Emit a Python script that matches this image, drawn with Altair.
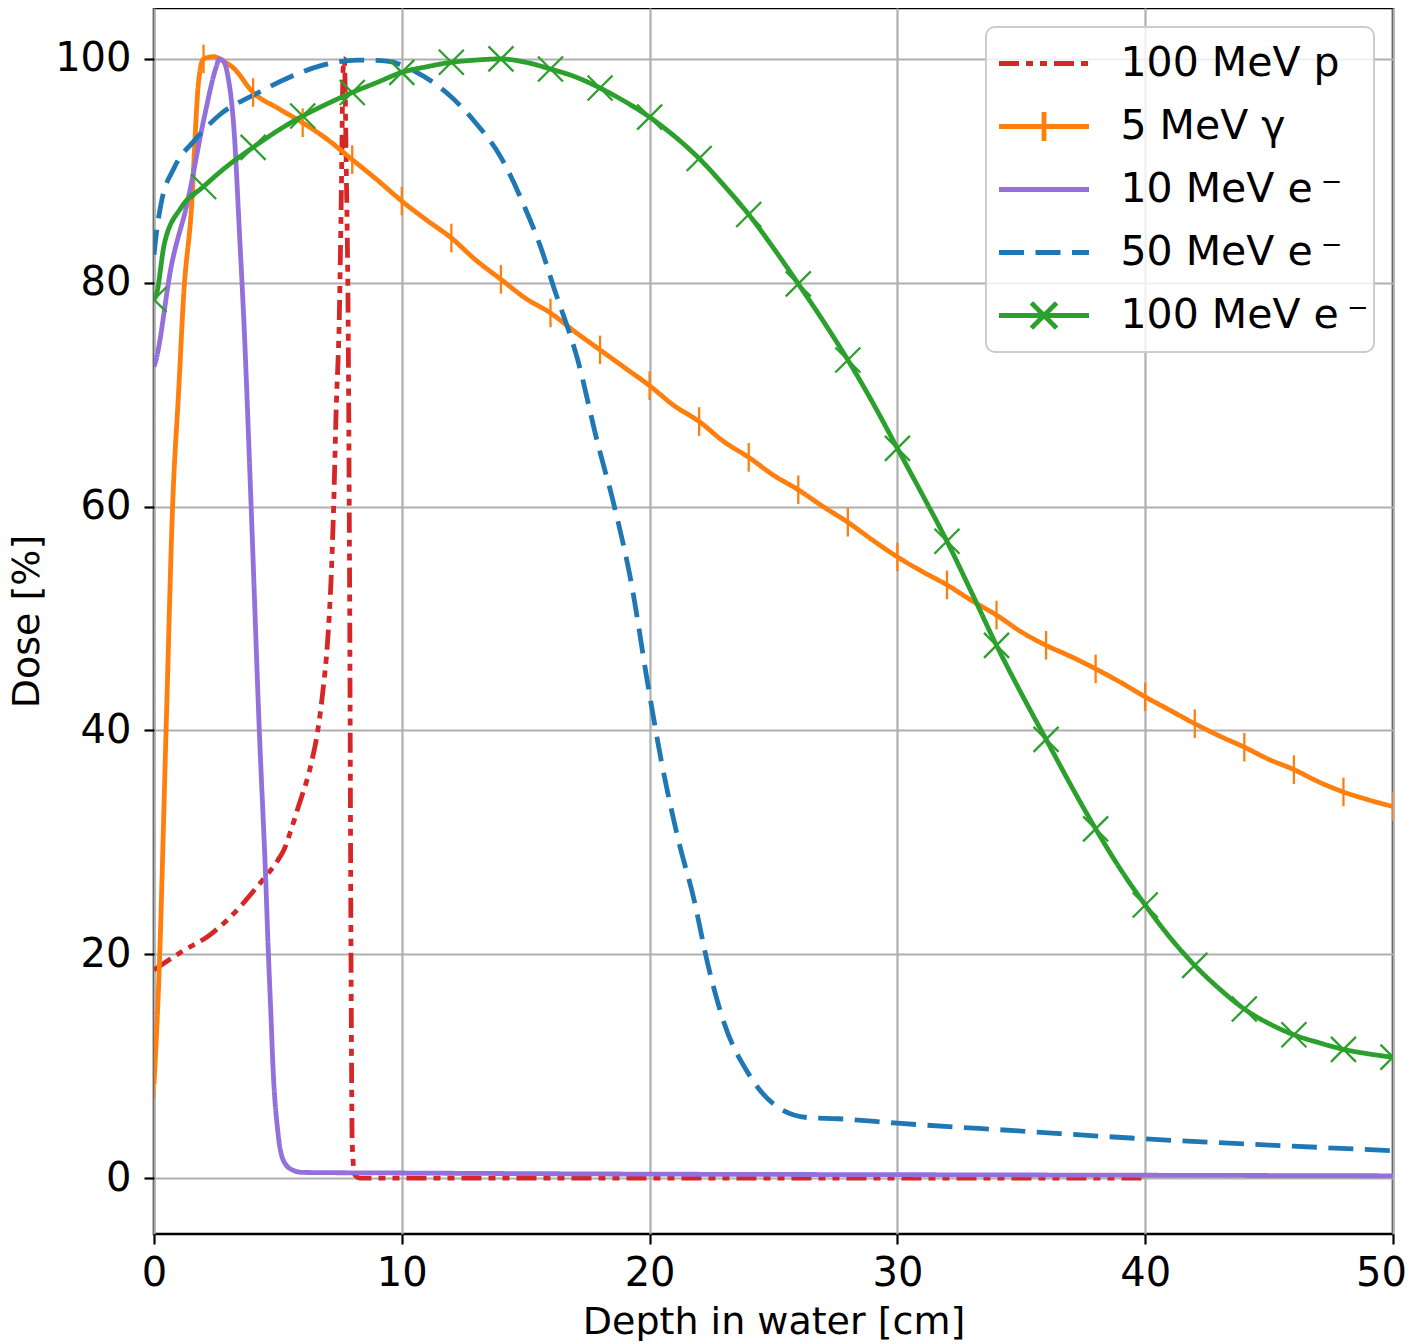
import altair as alt
import pandas as pd

# ---------------- data ----------------
SERIES = ["100 MeV p", "5 MeV γ", "10 MeV e\u2009⁻\u2002", "50 MeV e\u2009⁻\u2002",
          "100 MeV e\u2009⁻\u2002"]
COLORS = ["#d62728", "#ff7f0e", "#9370db", "#1f77b4", "#2ca02c"]

proton_x = [0, 1.1, 2.3, 3.5, 4.0, 4.45, 5.0, 5.26, 5.5, 5.8, 6.34, 6.61, 6.81, 7.01, 7.15,
            7.25, 7.35, 7.48, 7.56, 7.63, 7.68, 7.76, 7.84, 7.9, 7.95, 8.0, 8.1, 8.3,
            12, 20, 30, 40]
proton_y = [18.6, 20.2, 21.8, 24.3, 25.6, 26.8, 28.4, 29.4, 30.9, 33.0, 37.0, 40.0, 43.4,
            48.1, 53.7, 60.0, 68.5, 77.2, 88.0, 99.0, 100.0, 90.0, 75.0, 50.0, 20.0, 3.0,
            0.3, 0.0, 0.0, 0.0, 0.0, 0.0]

gamma_x = [0, 0.2, 0.5, 0.75, 1.0, 1.2, 1.5, 1.8, 2, 2.4, 2.8, 3.2, 4, 5, 6, 7, 8, 9,
           10, 11, 12, 13, 14, 15, 16, 17, 18, 19, 20, 21, 22, 23, 24, 25, 26, 27, 28,
           29, 30, 31, 32, 33, 34, 35, 36, 37, 38, 39, 40, 41, 42, 43, 44, 45, 46, 47,
           48, 49, 50]
gamma_y = [8.4, 18.0, 41.0, 60.0, 70.5, 79.0, 86.3, 98.0, 100.0, 100.2, 99.8, 99.2, 97.0,
           95.6, 94.3, 92.8, 91.0, 89.2, 87.3, 85.6, 84.0, 82.0, 80.3, 78.6, 77.3, 75.6,
           74.0, 72.4, 70.8, 69.0, 67.6, 65.8, 64.4, 62.8, 61.5, 60.0, 58.6, 57.0, 55.5,
           54.2, 53.0, 51.6, 50.3, 48.8, 47.6, 46.6, 45.5, 44.3, 43.0, 41.8, 40.6, 39.5,
           38.5, 37.4, 36.5, 35.4, 34.5, 33.8, 33.2]

e10_x = [0, 0.08, 0.69, 1.36, 2.03, 2.5, 2.64, 2.8, 2.97, 3.24, 3.45, 3.65, 3.92, 4.25,
         4.52, 4.6, 4.72, 4.8, 5.0, 5.26, 5.66, 6, 10, 20, 30, 40, 50]
e10_y = [72.5, 73.1, 81.4, 87.3, 94.8, 99.2, 100.0, 99.8, 98.6, 93.3, 84.4, 75.4, 60.0,
         40.0, 26.0, 21.0, 14.5, 10.0, 4.1, 1.4, 0.65, 0.5, 0.45, 0.35, 0.3, 0.25, 0.2]

e50_x = [0, 0.1, 0.28, 0.82, 1.63, 2.7, 4.05, 5.4, 6.74, 8.2, 9.4, 10.6, 11.9, 12.9,
         14.0, 14.95, 15.6, 16.16, 17.1, 17.9, 18.58, 19.26, 19.93, 20.47, 21.14, 21.8,
         22.35, 23.0, 23.97, 25.04, 26.4, 27.6, 30, 35, 40, 45, 50]
e50_y = [82.5, 84.5, 87.0, 90.3, 92.7, 95.1, 96.8, 98.3, 99.4, 99.9, 99.8, 98.8, 96.8,
         94.5, 91.2, 86.8, 83.2, 79.4, 73.1, 65.7, 60.0, 53.2, 44.1, 37.3, 30.4, 24.8,
         19.1, 13.9, 9.4, 6.55, 5.4, 5.3, 4.9, 4.2, 3.5, 2.95, 2.44]

e100_x = [0, 0.1, 0.42, 1.09, 2, 3, 4, 5, 6, 7, 8, 9, 10, 11, 12, 13, 14, 15, 16, 17, 18,
          19, 20, 21, 22, 23, 24, 25, 26, 27, 28, 29, 30, 31, 32, 33, 34, 35, 36, 37, 38,
          39, 40, 41, 42, 43, 44, 45, 46, 47, 48, 49, 50]
e100_y = [78.5, 79.0, 83.5, 86.7, 88.6, 90.5, 92.1, 93.6, 94.9, 96.0, 97.0, 97.9, 98.8,
          99.3, 99.7, 99.9, 100.0, 99.7, 99.1, 98.4, 97.4, 96.2, 94.8, 93.1, 91.1, 88.7,
          86.1, 83.1, 79.9, 76.6, 73.1, 69.3, 65.2, 61.1, 56.9, 52.3, 47.6, 43.3, 39.2,
          35.1, 31.2, 27.6, 24.4, 21.5, 19.0, 16.9, 15.1, 13.8, 12.8, 12.1, 11.5, 11.1,
          10.8]

X_TICKS = [0, 10, 20, 30, 40, 50]
Y_TICKS = [0, 20, 40, 60, 80, 100]

# ---------------- styles ----------------
DASHES = [[20, 7, 7, 7, 7, 7], [1, 0], [1, 0], [25, 11.5], [1, 0]]
LINE = "M-1,0L1,0"
LEGEND_SHAPES = [
    LINE,
    LINE + "M0,-0.32L0,0.32",
    LINE,
    LINE,
    LINE + "M-0.28,-0.28L0.28,0.28M-0.28,0.28L0.28,-0.28",
]

rows = []
for name, xs, ys in zip(SERIES,
                        [proton_x, gamma_x, e10_x, e50_x, e100_x],
                        [proton_y, gamma_y, e10_y, e50_y, e100_y]):
    for xv, yv in zip(xs, ys):
        rows.append({"series": name, "depth": xv, "dose": yv})
df = pd.DataFrame(rows)

x_enc = alt.X("depth:Q", title="Depth in water [cm]",
              scale=alt.Scale(domain=[0, 50], nice=False, zero=False),
              axis=alt.Axis(values=X_TICKS, labelFlush=False, labelPadding=9,
                            titlePadding=10,
                            labelOffset=alt.condition("datum.value == 50",
                                                      alt.value(-12), alt.value(0))))
y_enc = alt.Y("dose:Q", title="Dose [%]",
              scale=alt.Scale(domain=[-5, 104.55], nice=False, zero=False),
              axis=alt.Axis(values=Y_TICKS, labelPadding=13, titlePadding=8))

color_scale = alt.Scale(domain=SERIES, range=COLORS)
dash_scale = alt.Scale(domain=SERIES, range=DASHES)
shape_scale = alt.Scale(domain=SERIES, range=LEGEND_SHAPES)
LEG = alt.Legend(title=None)

color_enc = alt.Color("series:N", scale=color_scale, legend=LEG)
dash_enc = alt.StrokeDash("series:N", scale=dash_scale, legend=LEG)

base = alt.Chart(df)

lines = base.mark_line(strokeWidth=4.8, clip=True, interpolate="monotone",
                       strokeCap="butt").encode(
    x=x_enc, y=y_enc, color=color_enc, strokeDash=dash_enc,
)

gamma_marks = base.transform_filter(
    f"datum.series == '{SERIES[1]}' && datum.depth % 2 == 0"
).mark_point(shape="M0,-1L0,1", size=818, filled=False, strokeWidth=2.3,
             opacity=1, clip=True).encode(
    x=x_enc, y=y_enc, color=color_enc,
)

e100_marks = base.transform_filter(
    f"datum.series == '{SERIES[4]}' && datum.depth % 2 == 0"
).mark_point(shape="M-1,-1L1,1M-1,1L1,-1", size=625, filled=False, strokeWidth=2.3,
             opacity=1, clip=True).encode(
    x=x_enc, y=y_enc, color=color_enc,
)

legend_layer = base.transform_filter("false").mark_point(
    filled=False, strokeWidth=4.8, opacity=1).encode(
    x=x_enc, y=y_enc, color=color_enc, strokeDash=dash_enc,
    shape=alt.Shape("series:N", scale=shape_scale, legend=LEG),
)

chart = alt.layer(lines, gamma_marks, e100_marks, legend_layer).properties(
    width=1239, height=1226,
    padding={"left": 0, "top": 0, "right": 0, "bottom": 0},
).configure(
    font="DejaVu Sans",
).configure_view(
    stroke="black", strokeWidth=2.5,
).configure_axis(
    grid=True, gridColor="#b0b0b0", gridWidth=2.2,
    domain=False,
    tickColor="black", tickWidth=2.2, tickSize=10,
    labelFontSize=40, labelColor="black", labelFont="DejaVu Sans",
    titleFontSize=38, titleColor="black", titleFontWeight="normal",
    titleFont="DejaVu Sans",
).configure_legend(
    orient="top-right", offset=19, padding=5,
    fillColor="rgba(255,255,255,0.8)", strokeColor="#cccccc", strokeWidth=2,
    cornerRadius=9,
    labelFontSize=41, labelColor="black", labelFont="DejaVu Sans", labelLimit=500,
    symbolSize=8100, symbolStrokeWidth=4.8, clipHeight=63, rowPadding=0,
    labelOffset=29, symbolOffset=5.5,
)

chart.save("out.html", embed_options={"renderer": "svg", "actions": False})
